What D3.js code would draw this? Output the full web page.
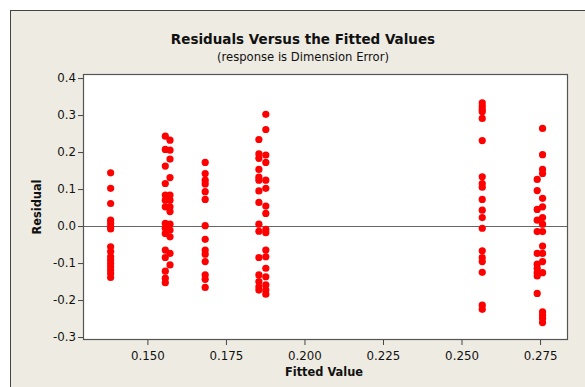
<!DOCTYPE html>
<html>
<head>
<meta charset="utf-8">
<script src="https://cdn.jsdelivr.net/npm/d3@7"></script>
<style>
  body { margin: 0; background: #fff; }
  text { font-family: "DejaVu Sans", Verdana, sans-serif; fill: #111; }
</style>
</head>
<body>
<svg id="chart" width="585" height="387"></svg>
<script>
// fitted value of each group (x), residuals of that group (y)
const fitted1 = 0.1383;
const resid1 = [0.144, 0.102, 0.061, 0.016, 0.007, -0.002, -0.008, -0.056, -0.069, -0.083,
  -0.092, -0.101, -0.110, -0.119, -0.128, -0.139];

const fitted2a = 0.1557;
const resid2a = [0.243, 0.207, 0.162, 0.115, 0.084, 0.070, 0.052, 0.007, -0.006, -0.020,
  -0.065, -0.085, -0.122, -0.141, -0.153];
const fitted2b = 0.1572;
const resid2b = [0.232, 0.205, 0.181, 0.131, 0.084, 0.070, 0.052, 0.039, 0.005, -0.011,
  -0.029, -0.074, -0.105];

const fitted3 = 0.1684;
const resid3 = [0.172, 0.142, 0.124, 0.114, 0.093, 0.072, 0.001, -0.036, -0.065, -0.076,
  -0.096, -0.132, -0.144, -0.166];

const fitted4a = 0.1855;
const resid4a = [0.234, 0.195, 0.183, 0.153, 0.132, 0.124, 0.095, 0.064, 0.005, -0.014,
  -0.085, -0.132, -0.150, -0.164, -0.173];
const fitted4b = 0.1877;
const resid4b = [0.302, 0.261, 0.192, 0.172, 0.124, 0.102, 0.054, 0.034, -0.009, -0.018,
  -0.065, -0.083, -0.114, -0.137, -0.159, -0.173, -0.184];

const fitted5 = 0.2566;
const resid5 = [0.333, 0.324, 0.315, 0.309, 0.291, 0.231, 0.133, 0.115, 0.105, 0.072,
  0.043, 0.023, -0.006, -0.067, -0.085, -0.096, -0.125, -0.214, -0.225];

const fitted6a = 0.2741;
const resid6a = [0.126, 0.096, 0.045, 0.016, -0.015, -0.074, -0.103, -0.114, -0.126,
  -0.135, -0.182];
const fitted6b = 0.2758;
const resid6b = [0.264, 0.193, 0.153, 0.142, 0.075, 0.052, 0.023, 0.005, -0.015, -0.054,
  -0.074, -0.096, -0.126, -0.232, -0.241, -0.250, -0.261];

const xTicks = [0.150, 0.175, 0.200, 0.225, 0.250, 0.275];
const yTicks = [-0.3, -0.2, -0.1, 0.0, 0.1, 0.2, 0.3, 0.4];

const groups = [
  [fitted1, resid1], [fitted2a, resid2a], [fitted2b, resid2b], [fitted3, resid3],
  [fitted4a, resid4a], [fitted4b, resid4b], [fitted5, resid5],
  [fitted6a, resid6a], [fitted6b, resid6b]
];
const points = groups.flatMap(([f, rs]) => rs.map(r => ({ x: f, y: r })));

const svg = d3.select("#chart");
const pLeft = 83, pRight = 568, pTop = 74, pBottom = 340;

// outer panel
svg.append("rect")
  .attr("x", 10.5).attr("y", 10.5)
  .attr("width", 600).attr("height", 400)
  .attr("fill", "#eeebe2").attr("stroke", "#444");

const x = d3.scaleLinear().domain([0.1295, 0.2839]).range([pLeft, pRight]);
const y = d3.scaleLinear().domain([-0.308, 0.411]).range([pBottom, pTop]);

svg.append("rect")
  .attr("x", pLeft).attr("y", pTop)
  .attr("width", pRight - pLeft).attr("height", pBottom - pTop)
  .attr("fill", "#fff");

// zero reference line
svg.append("line")
  .attr("x1", pLeft).attr("x2", pRight)
  .attr("y1", Math.round(y(0)) + 0.5).attr("y2", Math.round(y(0)) + 0.5)
  .attr("stroke", "#666").attr("stroke-width", 1);

svg.append("g").selectAll("circle")
  .data(points)
  .join("circle")
  .attr("cx", d => x(d.x))
  .attr("cy", d => y(d.y))
  .attr("r", 3.6)
  .attr("fill", "#ff0000");

svg.append("rect")
  .attr("x", pLeft + 0.5).attr("y", pTop + 0.5)
  .attr("width", pRight - pLeft - 1).attr("height", pBottom - pTop - 1)
  .attr("fill", "none").attr("stroke", "#555").attr("stroke-width", 1.2);

const xAxis = svg.append("g")
  .attr("transform", `translate(0,${pBottom})`)
  .call(d3.axisBottom(x).tickValues(xTicks).tickFormat(d3.format(".3f")).tickSize(5).tickSizeOuter(0));
const yAxis = svg.append("g")
  .attr("transform", `translate(${pLeft},0)`)
  .call(d3.axisLeft(y).tickValues(yTicks).tickFormat(d3.format(".1f")).tickSize(5).tickSizeOuter(0));

[xAxis, yAxis].forEach(g => {
  g.select(".domain").remove();
  g.selectAll("line").attr("stroke", "#444");
  g.selectAll("text").attr("font-size", 11.8).attr("fill", "#111")
    .style("font-family", "'DejaVu Sans', sans-serif");
});
xAxis.selectAll("text").attr("dy", "1.0em");
yAxis.selectAll("text").attr("x", -7).text(d => d3.format(".1f")(d).replace("−", "-"));

svg.append("text")
  .attr("x", 303).attr("y", 44)
  .attr("text-anchor", "middle")
  .attr("font-size", 13.5).attr("font-weight", "bold")
  .text("Residuals Versus the Fitted Values");

svg.append("text")
  .attr("x", 303).attr("y", 61)
  .attr("text-anchor", "middle")
  .attr("font-size", 11.6)
  .text("(response is Dimension Error)");

svg.append("text")
  .attr("x", 324).attr("y", 376)
  .attr("text-anchor", "middle")
  .attr("font-size", 11.4).attr("font-weight", "bold")
  .text("Fitted Value");

svg.append("text")
  .attr("transform", "translate(41,207) rotate(-90)")
  .attr("text-anchor", "middle")
  .attr("font-size", 11.4).attr("font-weight", "bold")
  .text("Residual");
</script>
</body>
</html>
